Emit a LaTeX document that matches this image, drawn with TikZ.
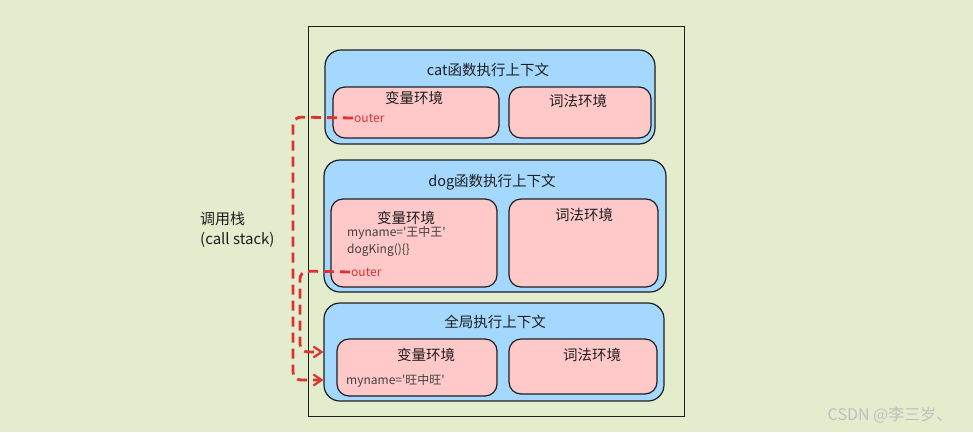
\documentclass[tikz,border=0pt]{standalone}
\usepackage{fontspec}
\setmainfont{Noto Sans CJK SC}
\newfontfamily\codefont{Noto Sans CJK SC}
\usetikzlibrary{arrows.meta}

\definecolor{bgpaper}{RGB}{227,237,205}
\definecolor{ctxblue}{RGB}{165,216,255}
\definecolor{envpink}{RGB}{255,201,201}
\definecolor{linkred}{RGB}{224,49,49}
\definecolor{inkdark}{RGB}{30,30,30}

\tikzset{
  ctxbox/.style={draw=inkdark, line width=1.2pt, fill=ctxblue, rounded corners=16pt, inner sep=0pt},
  envbox/.style={draw=inkdark, line width=1.2pt, fill=envpink, rounded corners=12pt, inner sep=0pt},
  hand/.style={text=inkdark, font=\fontsize{14.5}{16}\selectfont},
  code/.style={text=inkdark!85, font=\codefont\fontsize{12}{14}\selectfont, anchor=west, inner sep=0pt},
  outerref/.style={text=linkred, font=\fontsize{12}{14}\selectfont, anchor=west, inner sep=1pt},
  outerlink/.style={draw=linkred, line width=2.8pt, dash pattern=on 10pt off 6pt, rounded corners=8pt,
    -{Straight Barb[length=8pt,width=11pt,line width=2.2pt]}},
}

\begin{document}
\begin{tikzpicture}[x=1pt, y=-1pt]
            \useasboundingbox[fill=bgpaper] (0,0) rectangle (973,432);
            % call stack frame
            \draw[inkdark, line width=1pt] (308,26) rectangle (684,416);
            \node[text=inkdark, font=\fontsize{15}{20}\selectfont, align=left, anchor=west, inner sep=0pt] (stacklabel) at (200,230) {调用栈\\(call stack)};

            % cat context
            \node[ctxbox, minimum width=330pt, minimum height=94pt] (catctx) at (490,97) {};
            \node[hand] (cattitle) at (488,70) {cat函数执行上下文};
            \node[envbox, minimum width=166pt, minimum height=51pt] (catvar) at (416,112.5) {};
            \node[envbox, minimum width=142pt, minimum height=51pt] (catlex) at (580,112.5) {};
            \node[hand] at (414,98) {变量环境};
            \node[hand] at (578,101) {词法环境};
            \node[outerref] (catouter) at (353,118) {outer};

            % dog context
            \node[ctxbox, minimum width=342pt, minimum height=132pt] (dogctx) at (495,226) {};
            \node[hand] (dogtitle) at (492,182) {dog函数执行上下文};
            \node[envbox, minimum width=166pt, minimum height=88pt] (dogvar) at (414,243) {};
            \node[envbox, minimum width=149pt, minimum height=88pt] (doglex) at (583.5,243) {};
            \node[hand] at (406,218) {变量环境};
            \node[hand] at (584,215) {词法环境};
            \node[code] (dogname) at (347,233) {myname='王中王'};
            \node[code] (dogking) at (347,250) {dogKing()\{\}};
            \node[outerref] (dogouter) at (350,272) {outer};

            % global context
            \node[ctxbox, minimum width=340pt, minimum height=98pt] (gctx) at (494,352) {};
            \node[hand] (gtitle) at (495,322) {全局执行上下文};
            \node[envbox, minimum width=160pt, minimum height=57pt] (gvar) at (417,367.5) {};
            \node[envbox, minimum width=148pt, minimum height=55pt] (glex) at (583,366.5) {};
            \node[hand] at (426,355) {变量环境};
            \node[hand] at (592,355) {词法环境};
            \node[code] (gname) at (346,381) {myname='旺中旺'};

            % outer links
            \coordinate (cattop) at (293,117);
            \coordinate (catbot) at (293,380);
            \coordinate (dogtop) at (300,271);
            \coordinate (dogbot) at (300,352);
            \draw[outerlink] (catouter.west) -- (cattop) -- (catbot) -- (catbot -| gctx.west);
            \draw[outerlink] (dogouter.west) -- (dogtop) -- (dogbot) -- (dogbot -| gctx.west);

            \node[text=black!25, font=\fontsize{16}{18}\selectfont] (mark) at (890,415) {CSDN @李三岁、};
        \end{tikzpicture}
\end{document}
